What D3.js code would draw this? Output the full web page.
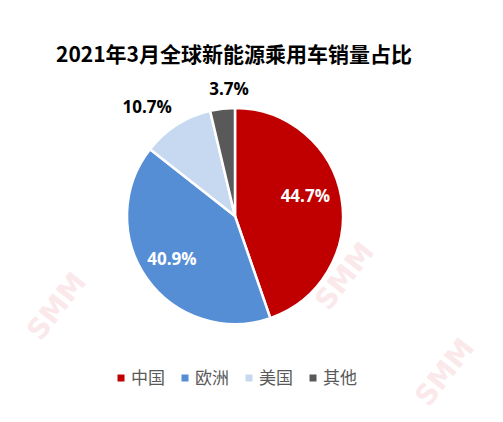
<!DOCTYPE html>
<html><head><meta charset="utf-8">
<script src="https://cdn.jsdelivr.net/npm/d3@7"></script>
<style>body{margin:0;background:#fff;}svg{display:block;}</style>
</head><body>
<svg id="c" width="503" height="422"></svg>
<script>
const title = "2021年3月全球新能源乘用车销量占比";
const categories = ["中国", "欧洲", "美国", "其他"];
const values = [44.7, 40.9, 10.7, 3.7];
const colors = ["#C00000", "#558ED5", "#C6D9F1", "#595959"];
const labelColors = ["#fff", "#fff", "#000", "#000"];

const svg = d3.select("#c");
const font = "'Noto Sans CJK SC', sans-serif";

// faint watermarks
const wm = [[64, 312], [352, 282], [452, 378]];
wm.forEach(([x, y]) => {
  svg.append("text").attr("transform", `translate(${x},${y}) rotate(-52)`)
    .attr("text-anchor", "middle").attr("font-family", "'DejaVu Sans', sans-serif")
    .attr("font-weight", "bold").attr("font-size", 28)
    .attr("fill", "#f6d3d8").attr("opacity", 0.5).text("SMM");
});

svg.append("text").attr("x", 234).attr("y", 62).attr("text-anchor", "middle")
  .attr("font-family", font).attr("font-weight", "bold").attr("font-size", 21)
  .attr("fill", "#000").text(title);

const cx = 235, cy = 216, r = 108;
const pie = d3.pie().sort(null).value(d => d)(values);
const arc = d3.arc().innerRadius(0).outerRadius(r);
const g = svg.append("g").attr("transform", `translate(${cx},${cy})`);
g.selectAll("path").data(pie).join("path")
  .attr("d", arc).attr("fill", (d, i) => colors[i])
  .attr("stroke", "#fff").attr("stroke-width", 2.5);

const inArc = d3.arc().innerRadius(r * 0.66).outerRadius(r * 0.66);
const outArc = d3.arc().innerRadius(r * 1.2).outerRadius(r * 1.2);
const nudge = [[0, -8], [-5, 2], [-18, 0], [9, 2]];
g.selectAll("text.lbl").data(pie).join("text")
  .attr("class", "lbl")
  .attr("transform", (d, i) => {
    const p = i < 2 ? inArc.centroid(d) : outArc.centroid(d);
    return `translate(${p[0] + nudge[i][0]},${p[1] + nudge[i][1]})`;
  })
  .attr("text-anchor", "middle").attr("dy", "0.35em")
  .attr("font-family", "'Open Sans', sans-serif").attr("font-weight", "bold")
  .attr("font-size", 17).attr("fill", (d, i) => labelColors[i])
  .text((d, i) => values[i].toFixed(1) + "%");

// legend
const lx = d3.scalePoint().domain(categories).range([121, 313]);
const lg = svg.append("g");
categories.forEach((c, i) => {
  const x = lx(c);
  lg.append("rect").attr("x", x - 3.5).attr("y", 374.5).attr("width", 7).attr("height", 7).attr("fill", colors[i]);
  lg.append("text").attr("x", x + 10).attr("y", 378).attr("dy", "0.36em")
    .attr("font-family", font).attr("font-size", 17).attr("fill", "#595959").text(c);
});
</script>
</body></html>
